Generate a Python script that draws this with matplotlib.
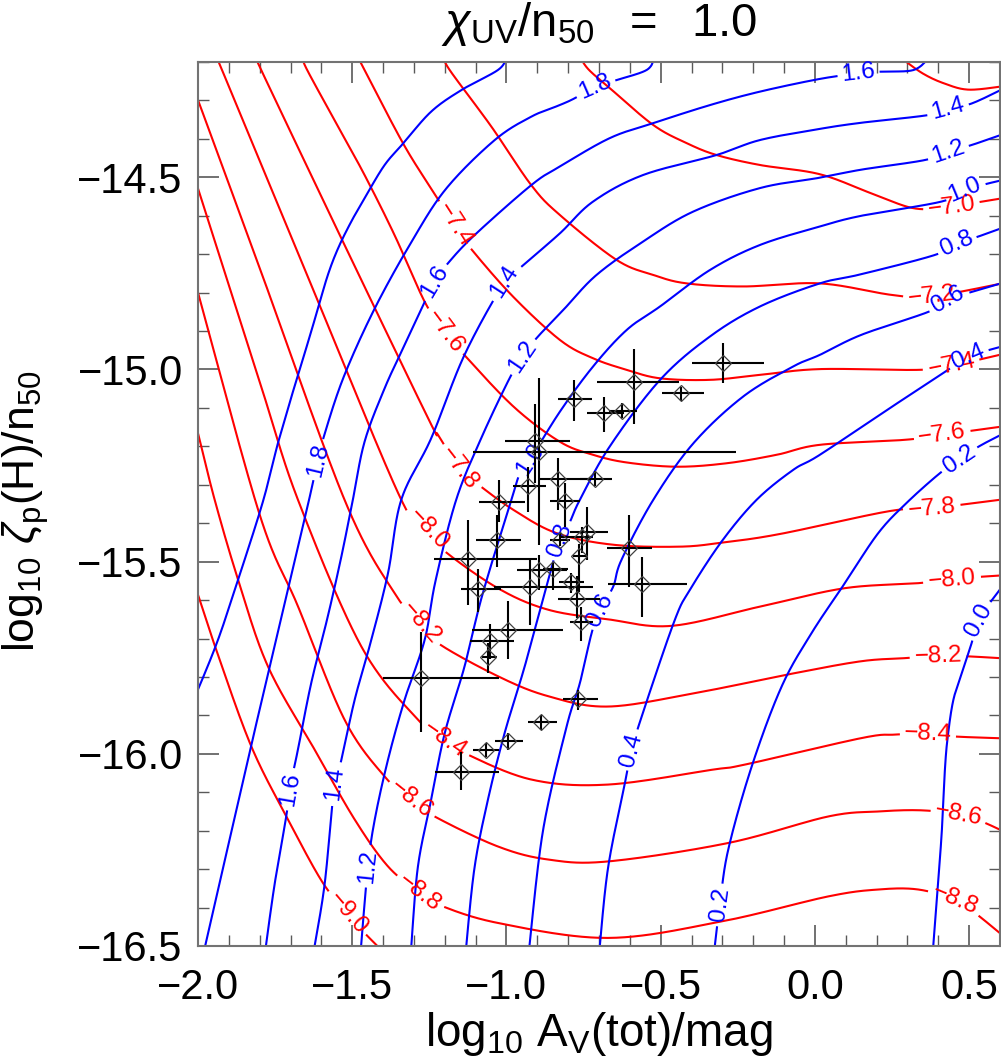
import numpy as np
import matplotlib
matplotlib.use('Agg')
import matplotlib.pyplot as plt
from matplotlib.ticker import MultipleLocator, FuncFormatter

plt.rcParams['font.family'] = ['Liberation Sans', 'DejaVu Sans']
plt.rcParams['mathtext.fontset'] = 'custom'
plt.rcParams['mathtext.rm'] = 'Liberation Sans'
plt.rcParams['mathtext.it'] = 'Liberation Sans:italic'
plt.rcParams['mathtext.bf'] = 'Liberation Sans:bold'

# ---------------- red contours (levels -6.8 ... -9.0) ----------------
red_m68_x = [0.28, 0.35, 0.42, 0.50, 0.62]
red_m68_y = [-14.19, -14.23, -14.256, -14.272, -14.262]
red_m70_x = [-0.76, -0.732, -0.665, -0.524, -0.416, -0.319, -0.178, 0.016, 0.184, 0.324, 0.443, 0.62]
red_m70_y = [-14.19, -14.221, -14.268, -14.364, -14.411, -14.442, -14.468, -14.492, -14.542, -14.581, -14.575, -14.553]
red_m72_x = [-1.20, -1.184, -1.049, -0.920, -0.827, -0.643, -0.524, -0.416, -0.232, 0.016, 0.249, 0.378, 0.62]
red_m72_y = [-14.19, -14.221, -14.368, -14.520, -14.598, -14.715, -14.754, -14.776, -14.784, -14.776, -14.806, -14.81, -14.774]
red_m74_x = [-1.48, -1.460, -1.335, -1.238, -1.168, -1.125, -0.984, -0.827, -0.719, -0.610, -0.502, -0.340, -0.178, 0.016, 0.335, 0.443, 0.62]
red_m74_y = [-14.19, -14.221, -14.412, -14.537, -14.624, -14.676, -14.806, -14.923, -14.971, -15.001, -15.023, -15.027, -15.014, -14.999, -15.001, -14.99, -14.958]
red_m76_x = [-1.66, -1.646, -1.546, -1.460, -1.363, -1.265, -1.200, -1.146, -0.978, -0.827, -0.719, -0.610, -0.448, -0.286, -0.124, 0.016, 0.292, 0.411, 0.62]
red_m76_y = [-14.19, -14.221, -14.368, -14.494, -14.650, -14.824, -14.902, -14.954, -15.096, -15.188, -15.222, -15.242, -15.253, -15.244, -15.222, -15.196, -15.183, -15.17, -15.147]
red_m78_x = [-1.81, -1.795, -1.525, -1.254, -1.222, -1.152, -1.100, -0.978, -0.837, -0.654, -0.438, -0.297, -0.113, 0.238, 0.378, 0.62]
red_m78_y = [-14.19, -14.221, -14.676, -15.127, -15.170, -15.257, -15.294, -15.365, -15.426, -15.456, -15.461, -15.450, -15.428, -15.369, -15.361, -15.337]
red_m80_x = [-1.94, -1.922, -1.633, -1.341, -1.254, -1.206, -1.028, -0.865, -0.671, -0.464, -0.173, 0.097, 0.335, 0.443, 0.62]
red_m80_y = [-14.19, -14.221, -14.780, -15.339, -15.417, -15.469, -15.569, -15.625, -15.650, -15.667, -15.616, -15.569, -15.556, -15.545, -15.535]
red_m82_x = [-2.02, -2.0, -1.8, -1.525, -1.363, -1.276, -1.222, -1.028, -0.865, -0.671, -0.389, -0.065, 0.151, 0.292, 0.400, 0.486, 0.62]
red_m82_y = [-14.26, -14.299, -14.736, -15.339, -15.582, -15.660, -15.712, -15.798, -15.850, -15.877, -15.842, -15.790, -15.759, -15.751, -15.745, -15.746, -15.752]
red_m84_x = [-2.02, -2.0, -1.8, -1.676, -1.471, -1.287, -1.200, -1.136, -0.919, -0.671, -0.330, -0.227, 0.151, 0.259, 0.367, 0.454, 0.62]
red_m84_y = [-14.48, -14.529, -15.032, -15.339, -15.720, -15.911, -15.963, -15.998, -16.067, -16.080, -16.041, -16.028, -15.959, -15.950, -15.948, -15.955, -15.960]
red_m86_x = [-2.02, -2.0, -1.8, -1.676, -1.525, -1.395, -1.308, -1.233, -1.028, -0.865, -0.671, -0.281, 0.043, 0.205, 0.346, 0.465, 0.540, 0.62]
red_m86_y = [-14.74, -14.799, -15.378, -15.616, -15.911, -16.059, -16.119, -16.163, -16.241, -16.275, -16.280, -16.232, -16.163, -16.150, -16.147, -16.158, -16.176, -16.205]
red_m88_x = [-2.02, -2.0, -1.946, -1.870, -1.773, -1.622, -1.492, -1.384, -1.281, -1.222, -1.028, -0.671, -0.302, 0.043, 0.205, 0.335, 0.454, 0.519, 0.62]
red_m88_y = [-15.11, -15.166, -15.339, -15.547, -15.773, -15.989, -16.171, -16.293, -16.362, -16.392, -16.440, -16.479, -16.436, -16.371, -16.353, -16.353, -16.38, -16.414, -16.48]
red_m90_x = [-2.02, -2.0, -1.941, -1.827, -1.708, -1.595, -1.514, -1.460, -1.417, -1.40]
red_m90_y = [-15.54, -15.586, -15.729, -15.981, -16.171, -16.336, -16.414, -16.466, -16.501, -16.52]

red_levels = [-6.8, -7.0, -7.2, -7.4, -7.6, -7.8, -8.0, -8.2, -8.4, -8.6, -8.8, -9.0]
red_xs = [red_m68_x, red_m70_x, red_m72_x, red_m74_x, red_m76_x, red_m78_x,
          red_m80_x, red_m82_x, red_m84_x, red_m86_x, red_m88_x, red_m90_x]
red_ys = [red_m68_y, red_m70_y, red_m72_y, red_m74_y, red_m76_y, red_m78_y,
          red_m80_y, red_m82_y, red_m84_y, red_m86_y, red_m88_y, red_m90_y]

red_label_lev = [-7.4, -7.6, -7.8, -8.0, -8.2, -8.4, -8.6, -8.8, -9.0,
                 -7.0, -7.2, -7.4, -7.6, -7.8, -8.0, -8.2, -8.4, -8.6, -8.8]
red_label_x = [-1.168, -1.200, -1.152, -1.254, -1.276, -1.200, -1.308, -1.281, -1.514,
               0.443, 0.378, 0.443, 0.411, 0.378, 0.443, 0.400, 0.367, 0.465, 0.454]
red_label_y = [-14.624, -14.902, -15.257, -15.417, -15.660, -15.963, -16.119, -16.362, -16.414,
               -14.578, -14.81, -14.99, -15.17, -15.361, -15.547, -15.745, -15.948, -16.158, -16.379]

# ---------------- blue contours (levels 0.0 ... 2.0) ----------------
blue_20_x = [-1.00, -1.028, -1.146, -1.244, -1.335, -1.395, -1.454, -1.503, -1.546, -1.579, -1.611, -1.643,
             -1.676, -1.708, -1.741, -1.790, -1.870, -1.935, -2.0, -2.02]
blue_20_y = [-14.19, -14.221, -14.273, -14.329, -14.412, -14.468, -14.546, -14.615, -14.685, -14.754, -14.841,
             -14.928, -15.014, -15.101, -15.192, -15.345, -15.547, -15.703, -15.833, -15.87]
blue_18_x = [-0.52, -0.546, -0.643, -0.713, -0.778, -0.827, -0.919, -1.038, -1.195, -1.308, -1.427, -1.525, -1.584,
             -1.611, -1.640, -1.705, -1.799, -1.977, -1.982]
blue_18_y = [-14.19, -14.221, -14.247, -14.264, -14.294, -14.312, -14.342, -14.403, -14.529, -14.668, -14.841, -15.014,
             -15.153, -15.235, -15.339, -15.560, -15.880, -16.5, -16.52]
blue_16_x = [0.37, 0.319, 0.216, 0.141, 0.016, -0.178, -0.340, -0.524, -0.665, -0.827, -0.919, -1.103, -1.190, -1.233,
             -1.265, -1.330, -1.395, -1.460, -1.498, -1.535, -1.579, -1.633, -1.676, -1.703, -1.714, -1.751,
             -1.780, -1.783]
blue_16_y = [-14.19, -14.221, -14.225, -14.230, -14.244, -14.277, -14.312, -14.359, -14.398, -14.472, -14.520, -14.650,
             -14.724, -14.772, -14.824, -14.936, -15.049, -15.188, -15.339, -15.486, -15.642, -15.816, -15.989,
             -16.093, -16.163, -16.336, -16.5, -16.52]
blue_14_x = [0.62, 0.508, 0.432, 0.368, 0.151, 0.016, -0.178, -0.319, -0.557, -0.719, -0.827, -0.952, -1.006, -1.136,
             -1.244, -1.341, -1.384, -1.438, -1.492, -1.535, -1.557, -1.589, -1.622, -1.625]
blue_14_y = [-14.266, -14.308, -14.321, -14.338, -14.358, -14.374, -14.403, -14.442, -14.494, -14.563, -14.646, -14.733,
             -14.772, -14.962, -15.179, -15.339, -15.530, -15.703, -15.859, -16.015, -16.076, -16.336, -16.5,
             -16.52]
blue_12_x = [0.62, 0.508, 0.432, 0.357, 0.151, 0.016, -0.178, -0.394, -0.557, -0.708, -0.811, -0.903, -0.947, -0.990,
             -1.082, -1.163, -1.230, -1.265, -1.330, -1.384, -1.427, -1.449, -1.471, -1.473]
blue_12_y = [-14.385, -14.416, -14.433, -14.455, -14.480, -14.501, -14.528, -14.589, -14.667, -14.754, -14.841, -14.919,
             -14.967, -15.023, -15.179, -15.339, -15.550, -15.703, -15.859, -16.015, -16.171, -16.293, -16.496,
             -16.52]
blue_10_x = [0.62, 0.562, 0.486, 0.411, 0.151, 0.016, -0.178, -0.340, -0.502, -0.610, -0.719, -0.827, -0.924,
             -0.956, -0.984, -1.078, -1.136, -1.200, -1.244, -1.287, -1.308, -1.310]
blue_10_y = [-14.505, -14.516, -14.533, -14.563, -14.600, -14.628, -14.676, -14.741, -14.836, -14.897, -14.992,
             -15.110, -15.235, -15.270, -15.339, -15.586, -15.773, -15.946, -16.119, -16.293, -16.496, -16.52]
blue_08_x = [0.62, 0.530, 0.459, 0.389, 0.151, 0.016, -0.178, -0.340, -0.502, -0.665, -0.762, -0.794, -0.827,
             -0.879, -0.941, -1.006, -1.060, -1.103, -1.130, -1.132]
blue_08_y = [-14.628, -14.654, -14.672, -14.702, -14.752, -14.776, -14.836, -14.914, -15.027, -15.200, -15.339,
             -15.396, -15.443, -15.590, -15.773, -15.946, -16.119, -16.293, -16.496, -16.52]
blue_06_x = [0.62, 0.476, 0.432, 0.368, 0.150, 0.016, -0.070, -0.232, -0.394, -0.524, -0.627, -0.654, -0.697, -0.724,
             -0.762, -0.805, -0.881, -0.925, -0.927]
blue_06_y = [-14.772, -14.806, -14.819, -14.850, -14.910, -14.962, -14.992, -15.070, -15.192, -15.339, -15.495,
             -15.565, -15.625, -15.686, -15.816, -15.929, -16.197, -16.496, -16.52]
blue_04_x = [0.62, 0.497, 0.422, 0.259, 0.016, -0.070, -0.189, -0.302, -0.405, -0.454, -0.551, -0.594, -0.616,
             -0.670, -0.697, -0.699]
blue_04_y = [-14.937, -14.967, -15.006, -15.092, -15.222, -15.261, -15.339, -15.447, -15.573, -15.651, -15.877,
             -15.989, -16.076, -16.293, -16.496, -16.52]
blue_02_x = [0.62, 0.530, 0.470, 0.411, 0.300, 0.205, 0.097, -0.011, -0.108, -0.205, -0.281, -0.308, -0.324, -0.325]
blue_02_y = [-15.163, -15.201, -15.235, -15.266, -15.345, -15.426, -15.556, -15.686, -15.825, -16.033, -16.249,
             -16.392, -16.496, -16.52]
blue_00_x = [0.62, 0.603, 0.530, 0.508, 0.476, 0.449, 0.432, 0.422, 0.411, 0.395, 0.384, 0.383]
blue_00_y = [-15.55, -15.569, -15.651, -15.712, -15.790, -15.859, -15.946, -16.033, -16.206, -16.379, -16.496, -16.52]

blue_levels = [2.0, 1.8, 1.6, 1.4, 1.2, 1.0, 0.8, 0.6, 0.4, 0.2, 0.0]
blue_xs = [blue_20_x, blue_18_x, blue_16_x, blue_14_x, blue_12_x, blue_10_x, blue_08_x, blue_06_x,
           blue_04_x, blue_02_x, blue_00_x]
blue_ys = [blue_20_y, blue_18_y, blue_16_y, blue_14_y, blue_12_y, blue_10_y, blue_08_y, blue_06_y,
           blue_04_y, blue_02_y, blue_00_y]

blue_label_lev = [1.8, 1.8, 1.6, 1.6, 1.6, 1.4, 1.4, 1.4, 1.2, 1.2, 1.2, 1.0, 1.0,
                  0.8, 0.8, 0.6, 0.6, 0.4, 0.4, 0.2, 0.2, 0.0]
blue_label_x = [-0.713, -1.611, 0.141, -1.233, -1.703, 0.432, -1.006, -1.557, 0.432, -0.947, -1.449, 0.486, -0.924,
                0.459, -0.827, 0.432, -0.697, 0.497, -0.594, 0.470, -0.308, 0.530]
blue_label_y = [-14.264, -15.235, -14.230, -14.772, -16.093, -14.321, -14.772, -16.076, -14.433, -14.967, -16.293,
                -14.533, -15.235, -14.672, -15.443, -14.819, -15.625, -14.967, -15.989, -15.235, -16.392, -15.651]

# ---------------- observed points ----------------
obs_x = [-0.297, -0.586, -0.434, -0.781, -0.684, -0.625, -0.908, -0.894, -0.832, -0.713, -0.929, -0.810,
         -1.024, -0.738, -0.754, -0.827, -0.602, -1.032, -1.126, -0.765, -0.894, -0.848, -0.791, -0.924,
         -1.091, -0.770, -0.758, -0.560, -0.996, -1.053, -1.059, -1.277, -0.767, -0.889, -0.996, -1.067, -1.147]
obs_y = [-14.982, -15.033, -15.062, -15.077, -15.114, -15.109, -15.185, -15.215, -15.285, -15.285, -15.302, -15.341,
         -15.344, -15.422, -15.435, -15.443, -15.465, -15.443, -15.493, -15.485, -15.521, -15.519, -15.554, -15.565,
         -15.571, -15.597, -15.657, -15.558, -15.677, -15.706, -15.749, -15.803, -15.857, -15.917, -15.966, -15.989,
         -16.046]
obs_xerr_lo = [0.100, 0.119, 0.061, 0.051, 0.054, 0.042, 0.097, 0.214, 0.059, 0.049, 0.049, 0.049,
               0.065, 0.056, 0.072, 0.032, 0.071, 0.067, 0.109, 0.018, 0.071, 0.032, 0.039, 0.117,
               0.056, 0.062, 0.036, 0.110, 0.117, 0.065, 0.021, 0.124, 0.051, 0.040, 0.041, 0.040, 0.084]
obs_xerr_hi = [0.133, 0.146, 0.076, 0.059, 0.066, 0.047, 0.113, 0.637, 0.103, 0.055, 0.056, 0.049,
               0.084, 0.068, 0.036, 0.032, 0.075, 0.079, 0.224, 0.025, 0.089, 0.049, 0.042, 0.205,
               0.073, 0.074, 0.040, 0.146, 0.180, 0.079, 0.027, 0.253, 0.063, 0.052, 0.049, 0.043, 0.123]
obs_yerr_lo = [0.052, 0.108, 0.019, 0.056, 0.048, 0.017, 0.110, 0.241, 0.080, 0.019, 0.068, 0.068,
               0.052, 0.074, 0.043, 0.017, 0.100, 0.071, 0.119, 0.093, 0.052, 0.054, 0.028, 0.100,
               0.059, 0.049, 0.049, 0.085, 0.076, 0.048, 0.041, 0.139, 0.030, 0.020, 0.023, 0.020, 0.048]
obs_yerr_hi = [0.052, 0.086, 0.017, 0.050, 0.043, 0.022, 0.095, 0.192, 0.055, 0.020, 0.049, 0.045,
               0.056, 0.063, 0.026, 0.017, 0.087, 0.065, 0.102, 0.031, 0.039, 0.016, 0.024, 0.069,
               0.051, 0.059, 0.038, 0.070, 0.074, 0.043, 0.037, 0.119, 0.022, 0.019, 0.020, 0.017, 0.052]

x_ticks = [-2.0, -1.5, -1.0, -0.5, 0.0, 0.5]
y_ticks = [-16.5, -16.0, -15.5, -15.0, -14.5]

# ---------------- figure ----------------
W, H = 1001, 1062
fig = plt.figure(figsize=(W / 100, H / 100), dpi=100)
ax = fig.add_axes([198 / W, 1 - 946 / H, 802 / W, 884 / H])
ax.set_xlim(-2.0, 0.6)
ax.set_ylim(-16.5, -14.2)
renderer = fig.canvas.get_renderer()

RED = '#ff0000'
BLUE = '#0000ff'
LABEL_SIZE = 17.5


def smooth_curve(xs, ys, nseg=40):
    """Dense samples of a Catmull-Rom curve through the traced vertices (display coords)."""
    P = ax.transData.transform(np.column_stack([xs, ys]).astype(float))
    n = len(P)
    t = np.linspace(0, 1, nseg, endpoint=False)[:, None]
    out = []
    for i in range(n - 1):
        p0 = P[i - 1] if i > 0 else P[i]
        p1, p2 = P[i], P[i + 1]
        p3 = P[i + 2] if i + 2 < n else P[i + 1]
        c1 = p1 + (p2 - p0) / 6.0
        c2 = p2 - (p3 - p1) / 6.0
        out.append((1 - t) ** 3 * p1 + 3 * (1 - t) ** 2 * t * c1 + 3 * (1 - t) * t ** 2 * c2 + t ** 3 * p2)
    out.append(P[-1:])
    return np.vstack(out)


def fmt_level(v):
    return f'{v:.1f}'.replace('-', '\u2212')


def draw_family(levels, xs_list, ys_list, lab_lev, lab_x, lab_y, color):
    inv = ax.transData.inverted()
    for lev, xs, ys in zip(levels, xs_list, ys_list):
        D = smooth_curve(xs, ys)
        keep = np.ones(len(D), bool)
        for ll, lx, ly in zip(lab_lev, lab_x, lab_y):
            if round(ll, 2) != round(lev, 2):
                continue
            c = ax.transData.transform((lx, ly))
            j = int(np.argmin(np.hypot(D[:, 0] - c[0], D[:, 1] - c[1])))
            a, b = D[max(j - 6, 0)], D[min(j + 6, len(D) - 1)]
            u = (b - a) / np.hypot(*(b - a))
            ang = np.degrees(np.arctan2(u[1], u[0]))
            if ang > 90:
                ang -= 180
            if ang < -90:
                ang += 180
            txt = ax.text(lx, ly, fmt_level(lev), color=color, fontsize=LABEL_SIZE,
                          rotation=0, rotation_mode='anchor', ha='center', va='center', zorder=3)
            w = txt.get_window_extent(renderer).width
            txt.set_rotation(ang)
            d = D - c
            along = d @ u
            perp = d @ np.array([-u[1], u[0]])
            keep &= ~((np.abs(along) < w / 2 + 4) & (np.abs(perp) < 25))
        Dd = inv.transform(D)
        Dd[~keep] = np.nan
        ax.plot(Dd[:, 0], Dd[:, 1], color=color, lw=1.5, zorder=2, solid_capstyle='butt')


draw_family(red_levels, red_xs, red_ys, red_label_lev, red_label_x, red_label_y, RED)
draw_family(blue_levels, blue_xs, blue_ys, blue_label_lev, blue_label_x, blue_label_y, BLUE)

ax.errorbar(obs_x, obs_y, xerr=[obs_xerr_lo, obs_xerr_hi], yerr=[obs_yerr_lo, obs_yerr_hi],
            fmt='none', ecolor='black', elinewidth=1.5, capsize=0, zorder=5)
ax.plot(obs_x, obs_y, linestyle='none', marker='D', markersize=8, markerfacecolor='none',
        markeredgecolor='0.25', markeredgewidth=0.9, zorder=6)

# axes styling
ax.set_xlim(-2.0, 0.6)
ax.set_ylim(-16.5, -14.2)
ax.set_xticks(x_ticks)
ax.set_yticks(y_ticks)
ax.xaxis.set_minor_locator(MultipleLocator(0.1))
ax.yaxis.set_minor_locator(MultipleLocator(0.1))
fmt = FuncFormatter(lambda v, _: f'{v:.1f}'.replace('-', '\u2212'))
ax.xaxis.set_major_formatter(fmt)
ax.yaxis.set_major_formatter(fmt)
ax.tick_params(which='both', direction='in', top=True, right=True, color='0.35')
ax.tick_params(which='major', length=15, width=1.2, labelsize=30)
ax.tick_params(which='minor', length=8, width=1.0)
ax.tick_params(axis='x', which='major', pad=16)
ax.tick_params(axis='y', which='major', pad=11)
for sp in ax.spines.values():
    sp.set_color('0.45')
    sp.set_linewidth(1.5)

fig.text(599 / W, 1 - 24 / H, r'$\chi_\mathrm{UV}\mathrm{/n_{50}\ \ =\ \ 1.0}$',
         ha='center', va='center', fontsize=34)
fig.text(599 / W, 1 - 1034 / H, r'$\mathrm{log_{10}\ A_V(tot)/mag}$',
         ha='center', va='center', fontsize=33)
fig.text(26 / W, 1 - 511 / H, r'$\mathrm{log_{10}}\ \zeta_\mathrm{p}\mathrm{(H)/n_{50}}$',
         ha='center', va='center', fontsize=32, rotation=90)

fig.savefig('out.png', dpi=100)
